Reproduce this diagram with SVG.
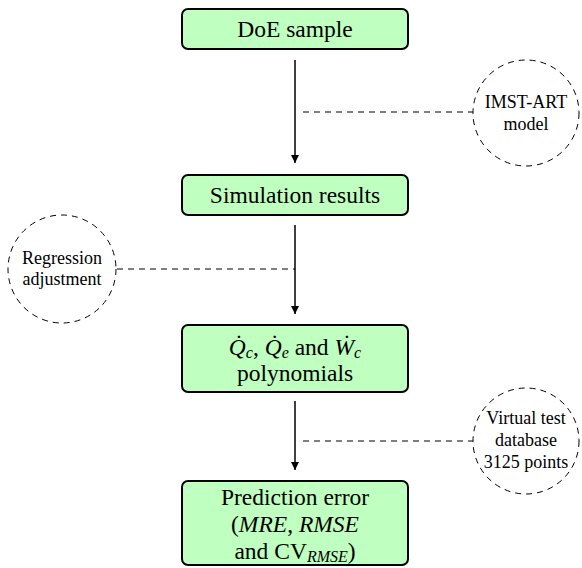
<svg xmlns="http://www.w3.org/2000/svg" width="582" height="568" viewBox="0 0 582 568">
<style>
.box{fill:#bfffbf;stroke:#000;stroke-width:2}
.circ{fill:none;stroke:#000;stroke-width:1;stroke-dasharray:6 5}
.dash{fill:none;stroke:#000;stroke-width:1;stroke-dasharray:6 5}
.flow{fill:none;stroke:#000;stroke-width:1.5}
.bt{font-family:"Liberation Serif","DejaVu Serif",serif;font-size:23.5px;text-anchor:middle;fill:#000}
.ct{font-family:"Liberation Serif","DejaVu Serif",serif;font-size:18px;text-anchor:middle;fill:#000}
.it{font-style:italic}
</style>
<defs>
<marker id="arr" viewBox="0 0 10 10" refX="10" refY="5" markerWidth="8" markerHeight="8" markerUnits="userSpaceOnUse" orient="auto">
<path d="M0,0 L10,5 L0,10 z" fill="#000"/>
</marker>
</defs>
<g id="connectors">
<line class="flow" x1="295" y1="60" x2="295" y2="163" marker-end="url(#arr)"/>
<line class="flow" x1="295" y1="225" x2="295" y2="314" marker-end="url(#arr)"/>
<line class="flow" x1="295" y1="401" x2="295" y2="470" marker-end="url(#arr)"/>
<line class="dash" x1="303" y1="112" x2="473" y2="112"/>
<line class="dash" x1="117" y1="269" x2="295" y2="269"/>
<line class="dash" x1="303" y1="441" x2="473" y2="441"/>
</g>
<g id="doe">
<rect class="box" x="182" y="9" width="226" height="40" rx="6"/>
<text class="bt" x="295" y="37">DoE sample</text>
</g>
<g id="sim">
<rect class="box" x="182" y="175" width="226" height="40" rx="6"/>
<text class="bt" x="295" y="203">Simulation results</text>
</g>
<g id="poly">
<rect class="box" x="182" y="325" width="226" height="67" rx="6"/>
<text class="bt" x="295" y="355"><tspan class="it">Q̇</tspan><tspan class="it" font-size="16" dy="3">c</tspan><tspan dy="-3">, </tspan><tspan class="it">Q̇</tspan><tspan class="it" font-size="16" dy="3">e</tspan><tspan dy="-3"> and </tspan><tspan class="it">Ẇ</tspan><tspan class="it" font-size="16" dy="3">c</tspan></text>
<text class="bt" x="295" y="381">polynomials</text>
</g>
<g id="pred">
<rect class="box" x="182" y="481" width="226" height="84" rx="6"/>
<text class="bt" x="295" y="505">Prediction error</text>
<text class="bt" x="295" y="532">(<tspan class="it">MRE</tspan>, <tspan class="it">RMSE</tspan></text>
<text class="bt" x="295" y="559">and CV<tspan class="it" font-size="16" dy="3">RMSE</tspan><tspan dy="-3">)</tspan></text>
</g>
<g id="imst">
<circle class="circ" cx="526" cy="113" r="53"/>
<text class="ct" x="526" y="108">IMST-ART</text>
<text class="ct" x="526" y="130">model</text>
</g>
<g id="regr">
<circle class="circ" cx="62" cy="269" r="54"/>
<text class="ct" x="62" y="264">Regression</text>
<text class="ct" x="62" y="285">adjustment</text>
</g>
<g id="virt">
<circle class="circ" cx="526" cy="441" r="53"/>
<text class="ct" x="526" y="424">Virtual test</text>
<text class="ct" x="526" y="446">database</text>
<text class="ct" x="526" y="468">3125 points</text>
</g>
</svg>
